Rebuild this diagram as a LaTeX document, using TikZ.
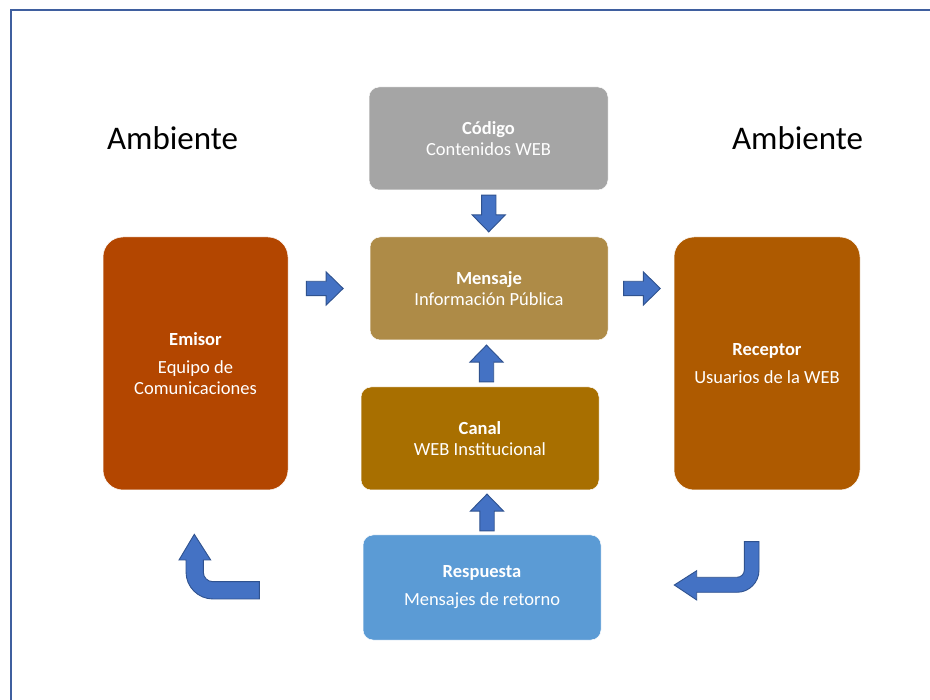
\documentclass[tikz,border=0pt]{standalone}
\usepackage{fontspec}
\setmainfont{Carlito}
\usetikzlibrary{calc}
\definecolor{codigoc}{HTML}{A5A5A5}
\definecolor{mensajec}{HTML}{AE8B47}
\definecolor{canalc}{HTML}{A86F00}
\definecolor{respc}{HTML}{5B9BD5}
\definecolor{emisorc}{HTML}{B34600}
\definecolor{receptorc}{HTML}{AE5A00}
\definecolor{arrowfill}{HTML}{4472C4}
\definecolor{arrowline}{HTML}{2F528F}
\definecolor{framec}{HTML}{3F5F9F}
\tikzset{
 box/.style={rectangle, rounded corners=10pt, draw=white, line width=0.5pt, text=white, align=center, inner sep=0pt, minimum width=238pt, minimum height=103pt, font=\fontsize{18.5}{21}\selectfont},
 tall/.style={box, rounded corners=20pt, minimum width=185pt, minimum height=253pt},
 barrow/.style={fill=arrowfill, draw=arrowline, line width=0.9pt},
 amb/.style={font=\fontsize{33}{40}\selectfont, anchor=base, inner sep=0pt}
}
\newcommand\blockarr[2]{%
 \filldraw[barrow, shift={#1}, rotate=#2] (-18.4,-7.2) -- (1.4,-7.2) -- (1.4,-16.6) -- (18.4,0) -- (1.4,16.6) -- (1.4,7.2) -- (-18.4,7.2) -- cycle;}
\begin{document}
\begin{tikzpicture}[x=1pt,y=-1pt]
\useasboundingbox (0,0) rectangle (930,700);
\fill[white] (0,0) rectangle (930,700);
\draw[framec, line width=1.5pt] (11,705) -- (11,10) -- (935,10);

\node[amb] (amb1) at (172.5,150) {Ambiente};
\node[amb] (amb2) at (797.5,150) {Ambiente};

\node[box, fill=codigoc, minimum width=239pt] (codigo) at (488.5,138.5) {\textbf{Código}\\Contenidos WEB};
\node[box, fill=mensajec] (mensaje) at (489,288.5) {\textbf{Mensaje}\\Información Pública};
\node[box, fill=canalc] (canal) at (480,438.5) {\textbf{Canal}\\WEB Institucional};
\node[box, fill=respc, minimum height=105pt] (respuesta) at (482,587.5) {\textbf{Respuesta}\\[7pt]Mensajes de retorno};
\node[tall, fill=emisorc] (emisor) at (195.5,363.5) {\textbf{Emisor}\\[7pt]Equipo de\\Comunicaciones};
\node[tall, fill=receptorc, minimum width=186pt] (receptor) at (767,363.5) {\textbf{Receptor}\\[7pt]Usuarios de la WEB};

\blockarr{($(mensaje.west)+(-45,0)$)}{0}
\blockarr{($(mensaje.east)+(33.7,0)$)}{0}
\blockarr{($(codigo.south)!0.5!(mensaje.north)$)}{-90}
\blockarr{($(mensaje.south)!0.5!(canal.north)+(2,0)$)}{90}
\blockarr{($(canal.south)!0.5!(respuesta.north)+(6,0)$)}{90}

\filldraw[barrow] (259.3,581.7) -- (213,581.7) .. controls (207.6,581.7) and (203.3,577.4) .. (203.3,572) -- (203.3,560) -- (210.7,560) -- (194.3,534.3) -- (179,560) -- (186,560) -- (186,572) .. controls (186,586.9) and (198.1,599) .. (213,599) -- (259.3,599) -- cycle;

\filldraw[barrow] (744.3,541.7) -- (759,541.7) -- (759,570.3) .. controls (759,582.4) and (749.1,592.3) .. (737,592.3) -- (696.7,592.3) -- (696.7,600) -- (674.3,585) -- (696.7,570.7) -- (696.7,577.3) -- (737,577.3) .. controls (741,577.3) and (744.3,574.1) .. (744.3,570.3) -- cycle;
\end{tikzpicture}
\end{document}
